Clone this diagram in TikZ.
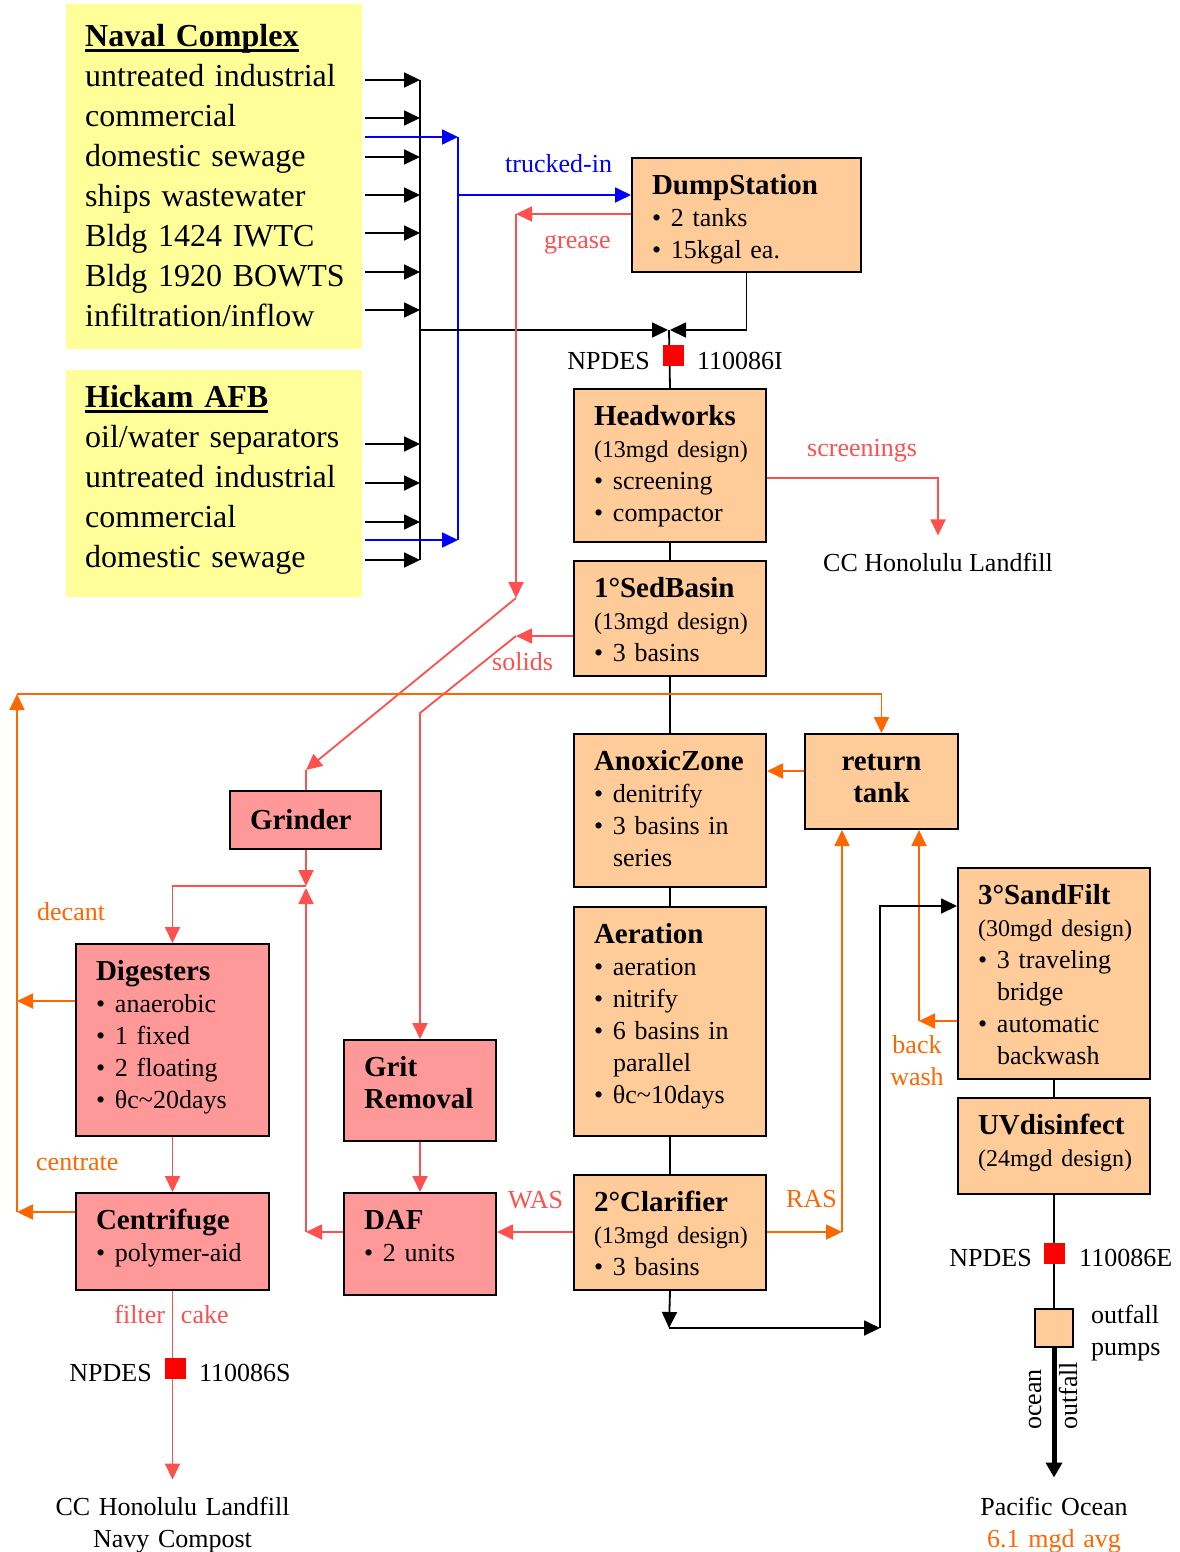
\documentclass[tikz,border=0pt]{standalone}
\usepackage{fontspec}
\setmainfont{Liberation Serif}
\usetikzlibrary{arrows.meta}

\hyphenpenalty=10000
\exhyphenpenalty=10000
\newcommand{\boxtitle}[1]{{\fontsize{29}{32}\selectfont\bfseries #1}}
\newcommand{\design}[1]{{\fontsize{24}{32}\selectfont\mbox{#1}}}
\newcommand{\bul}[1]{\makebox[19pt][l]{\textbullet}\mbox{#1}}
\newcommand{\cont}[1]{\makebox[19pt][l]{}#1}
\newcommand{\headul}[1]{\setbox0\hbox{#1}\rlap{\rule[-6pt]{\wd0}{3.5pt}}\box0}

\begin{document}
\begin{tikzpicture}[x=1pt,y=-1pt,
    >={Triangle[length=16pt,width=15pt]},
    source/.style={fill=kYellow, anchor=north west, inner xsep=19pt, inner ysep=0pt,
      text width=258pt, align=left, font=\fontsize{32}{40}\selectfont},
    proc/.style={draw, line width=2pt, fill=kPeach, anchor=north west,
      inner xsep=20pt, inner ysep=0pt, align=left, text height=36pt,
      font=\fontsize{26}{32}\selectfont},
    solidsbox/.style={proc, fill=kPink},
    flow/.style={line width=1.8pt, draw=black},
    sludge/.style={line width=1.8pt, draw=kRed},
    recycle/.style={line width=1.8pt, draw=kOrange},
    truck/.style={line width=1.8pt, draw=kBlue},
    lbl/.style={inner sep=0pt, font=\fontsize{26}{32}\selectfont},
    npdes/.style={fill=kSample, inner sep=0pt, minimum size=21pt}]
  \definecolor{kYellow}{RGB}{255,255,153}
  \definecolor{kPeach}{RGB}{255,204,153}
  \definecolor{kPink}{RGB}{255,153,153}
  \definecolor{kRed}{RGB}{255,80,80}
  \definecolor{kOrange}{RGB}{255,102,0}
  \definecolor{kBlue}{RGB}{0,0,255}
  \definecolor{kSample}{RGB}{255,0,0}

  \useasboundingbox[fill=white] (0,0) rectangle (1180,1552);

  % sources
  \node[source, text height=42pt, text depth=303pt] (naval) at (66,4)
    {\headul{\bfseries Naval Complex}\\ untreated~industrial\\ commercial\\
     domestic~sewage\\ ships~wastewater\\ Bldg~1424~IWTC\\ Bldg~1920~BOWTS\\
     infiltration/inflow};
  \node[source, text height=37pt, text depth=190pt] (hickam) at (66,370)
    {\headul{\bfseries Hickam AFB}\\ oil/water~separators\\ untreated~industrial\\
     commercial\\ domestic~sewage};

  % liquid train
  \node[proc, text width=189pt, text depth=78pt] (dump) at (631,157)
    {\boxtitle{DumpStation}\\ \bul{2 tanks}\\ \bul{15kgal ea.}};
  \node[proc, text width=152pt, text depth=117pt] (head) at (573,388)
    {\boxtitle{Headworks}\\ \design{(13mgd design)}\\ \bul{screening}\\ \bul{compactor}};
  \node[proc, text width=152pt, text depth=79pt] (sed) at (573,560)
    {\boxtitle{1°SedBasin}\\ \design{(13mgd design)}\\ \bul{3 basins}};
  \node[proc, text width=152pt, text depth=117pt] (anox) at (573,733)
    {\boxtitle{AnoxicZone}\\ \bul{denitrify}\\ \bul{3 basins in}\\ \cont{series}};
  \node[proc, text width=152pt, text depth=193pt] (aer) at (573,906)
    {\boxtitle{Aeration}\\ \bul{aeration}\\ \bul{nitrify}\\ \bul{6 basins in}\\
     \cont{parallel}\\ \bul{θc\textasciitilde10days}};
  \node[proc, text width=152pt, text depth=79pt] (clar) at (573,1174)
    {\boxtitle{2°Clarifier}\\ \design{(13mgd design)}\\ \bul{3 basins}};
  \node[proc, text width=113pt, text depth=59pt, align=center] (ret) at (804,733)
    {\boxtitle{return}\\ \boxtitle{tank}};
  \node[proc, text width=152pt, text depth=175pt] (sand) at (957,867)
    {\boxtitle{3°SandFilt}\\ \design{(30mgd design)}\\ \bul{3 traveling}\\ \cont{bridge}\\
     \bul{automatic}\\ \cont{backwash}};
  \node[proc, text width=152pt, text depth=60pt] (uv) at (957,1097)
    {\boxtitle{UVdisinfect}\\ \design{(24mgd design)}};
  \node[draw, line width=2pt, fill=kPeach, anchor=north west, inner sep=0pt,
    minimum width=38pt, minimum height=38pt] (pump) at (1034,1308) {};

  % solids train
  \node[solidsbox, text width=111pt, text height=38pt, text depth=20pt] (grind) at (229,790)
    {\boxtitle{Grinder}};
  \node[solidsbox, text width=153pt, text depth=156pt] (dig) at (75,943)
    {\boxtitle{Digesters}\\ \bul{anaerobic}\\ \bul{1 fixed}\\ \bul{2 floating}\\
     \bul{θc\textasciitilde20days}};
  \node[solidsbox, text width=153pt, text depth=61pt] (cent) at (75,1192)
    {\boxtitle{Centrifuge}\\ \bul{polymer-aid}};
  \node[solidsbox, text width=112pt, text depth=65pt] (grit) at (343,1039)
    {\boxtitle{Grit}\\ \boxtitle{Removal}};
  \node[solidsbox, text width=112pt, text depth=66pt] (daf) at (343,1192)
    {\boxtitle{DAF}\\ \bul{2 units}};

  % end points
  \node[lbl, anchor=base] (lf1) at (938,571) {CC Honolulu Landfill};
  \node[lbl, anchor=base, align=center, text width=260pt] (lf2) at (cent.south |- 0,1515)
    {CC Honolulu Landfill\\ Navy Compost};
  \node[lbl, anchor=base, align=center, text width=220pt] (ocean) at (pump.south |- 0,1515)
    {Pacific Ocean\\ \textcolor{kOrange}{6.1 mgd avg}};

  % collectors
  \coordinate (outN) at (365,0);
  \coordinate (colN) at (420,80);
  \coordinate (colS) at (420,560);
  \coordinate (bus) at (458,137);
  \coordinate (busS) at (458,540);
  \coordinate (merge) at (669,330);

  \foreach \y in {80,118,157,195,233,272,310,444,483,522,560}
    \draw[flow,->] (outN |- 0,\y) -- (colN |- 0,\y);
  \draw[flow] (colN) -- (colS);
  \draw[truck,->] (outN |- bus) -- (bus);
  \draw[truck,->] (outN |- busS) -- (busS);
  \draw[truck] (bus) -- (busS);
  \draw[truck,->] (bus |- 0,195) -- (dump.west |- 0,195);

  \draw[flow,->,shorten >=1pt] (colN |- merge) -- (merge);
  \draw[flow,->,shorten >=1pt] (dump.south) |- (merge);
  \draw[flow] (merge) -- (head.north);
  \draw[flow] (head.south) -- (sed.north);
  \draw[flow] (sed.south) -- (anox.north);
  \draw[flow] (anox.south) -- (aer.north);
  \draw[flow] (aer.south) -- (clar.north);

  % screenings and grease
  \draw[sludge,->,shorten >=17pt] (head.east |- 0,478) -| (lf1.north);
  \coordinate (gr1) at (516,214);
  \coordinate (gr2) at (516,598);
  \coordinate (gk) at (306,770);
  \draw[sludge,->] (dump.west |- gr1) -- (gr1);
  \draw[sludge,->] (gr1) -- (gr2);
  \draw[sludge,->] (gr2) -- (gk);
  \draw[sludge] (gk) -- (gk |- grind.north);

  % primary solids
  \coordinate (so1) at (516,636);
  \coordinate (so2) at (420,713);
  \draw[sludge,->] (sed.west |- so1) -- (so1);
  \draw[sludge,->] (so1) -- (so2) -- (so2 |- grit.north);

  % sludge handling
  \coordinate (jn) at (306,886);
  \coordinate (wd) at (306,1232);
  \draw[sludge,->] (grind.south -| jn) -- (jn);
  \draw[sludge,->] (jn) -| (dig.north);
  \draw[sludge,->] (daf.west |- wd) -- (wd);
  \draw[sludge,->] (wd) -- ([yshift=-2pt]jn);
  \draw[sludge,->] (grit.south) -- (daf.north);
  \draw[sludge,->] (clar.west |- wd) -- (daf.east |- wd);
  \draw[sludge,->] (dig.south) -- (cent.north);
  \draw[sludge,->,shorten >=17pt] (cent.south) -- (lf2.north);

  % recycle streams
  \coordinate (rl) at (17,694);
  \coordinate (rb) at (17,1212);
  \coordinate (ras) at (842,1232);
  \coordinate (bw) at (919,1021);
  \draw[recycle,->] (dig.west |- 0,1001) -- (rl |- 0,1001);
  \draw[recycle,->] (cent.west |- rb) -- (rb);
  \draw[recycle,->] (rb) -- (rl);
  \draw[recycle,->] (rl) -| (ret.north);
  \draw[recycle,->] (ret.west |- 0,771) -- (anox.east |- 0,771);
  \draw[recycle,->] (clar.east |- ras) -- (ras);
  \draw[recycle,->] (ras) -- (ras |- ret.south);
  \draw[recycle,->] (sand.west |- bw) -- (bw);
  \draw[recycle,->] (bw) -- (bw |- ret.south);

  % effluent
  \coordinate (ef) at (669,1328);
  \coordinate (ef2) at (880,1328);
  \draw[flow,->] (clar.south) -- (ef);
  \draw[flow,->] (ef) -- (ef2);
  \draw[flow,->] (ef2) |- (sand.west |- 0,906);
  \draw[flow] (sand.south) -- (uv.north);
  \draw[flow] (uv.south) -- (pump.north);
  \draw[line width=5pt,-{Triangle[length=15pt,width=16pt]},shorten >=19pt] (pump.south) -- (ocean.north);

  % permit points
  \node[npdes] (np1) at (673,355) {};
  \node[npdes] (np2) at (175,1368) {};
  \node[npdes] (np3) at (1054,1253) {};

  % labels
  \node[lbl, text=kBlue, anchor=base west] at (505,172) {trucked-in};
  \node[lbl, text=kRed, anchor=base west] at (544,248) {grease};
  \node[lbl, text=kRed, anchor=base west] at (807,456) {screenings};
  \node[lbl, text=kRed, anchor=base west] at (492,670) {solids};
  \node[lbl, text=kRed, anchor=base west] at (508,1208) {WAS};
  \node[lbl, text=kRed, anchor=base] at (171.5,1323) {filter\hspace{16pt}cake};
  \node[lbl, text=kOrange, anchor=base west] at (37,920) {decant};
  \node[lbl, text=kOrange, anchor=base west] at (36,1170) {centrate};
  \node[lbl, text=kOrange, anchor=base west] at (786,1207) {RAS};
  \node[lbl, text=kOrange, anchor=base, align=center, text width=60pt] at (917,1053) {back\\ wash};
  \node[lbl, anchor=base east] at (650,369) {NPDES};
  \node[lbl, anchor=base west] at (697,369) {110086I};
  \node[lbl, anchor=base east] at (152,1381) {NPDES};
  \node[lbl, anchor=base west] at (199,1381) {110086S};
  \node[lbl, anchor=base east] at (1032,1266) {NPDES};
  \node[lbl, anchor=base west] at (1079,1266) {110086E};
  \node[lbl, anchor=base west, align=left, text width=90pt] at (1091,1323) {outfall\\ pumps};
  \node[lbl, rotate=90, anchor=base west] at (1041,1430) {ocean};
  \node[lbl, rotate=90, anchor=base west] at (1077,1430) {outfall};
\end{tikzpicture}
\end{document}
